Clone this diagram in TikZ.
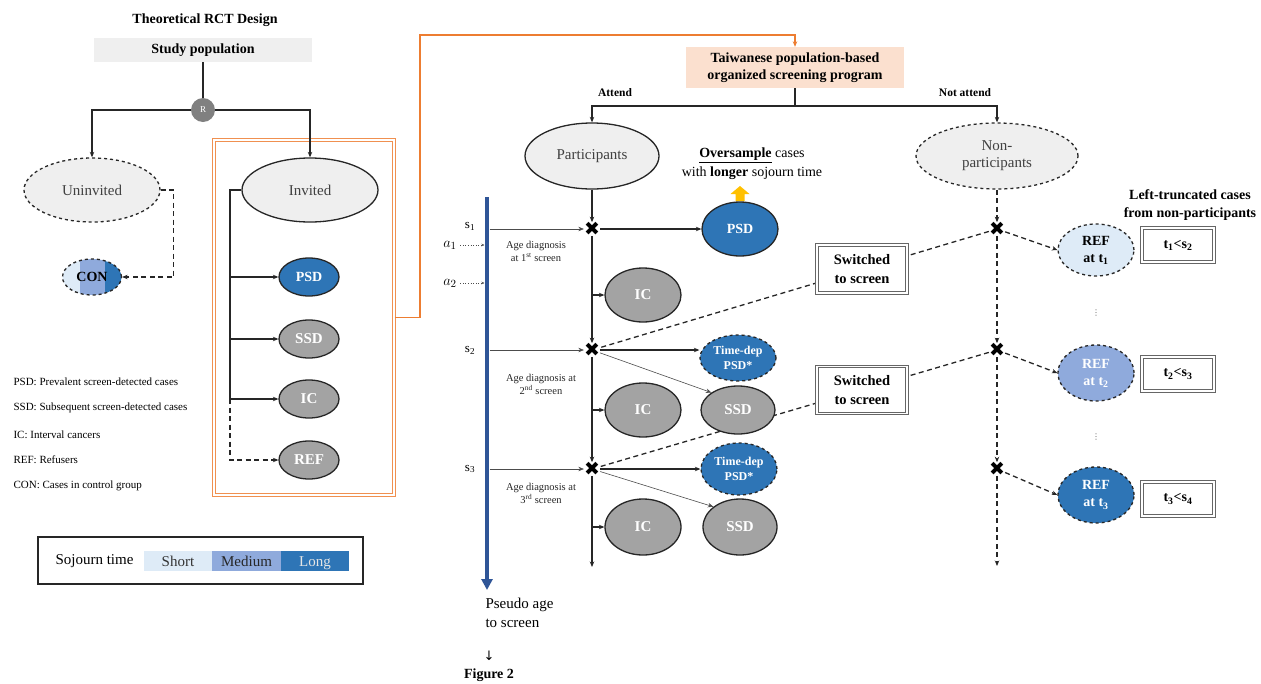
\documentclass[tikz,border=0pt]{standalone}
\usepackage{fontspec}
\setmainfont{Liberation Serif}
\newfontfamily\symfont{DejaVu Sans}
\usetikzlibrary{shapes.geometric,arrows.meta,backgrounds}
\definecolor{dblue}{HTML}{2E75B6}
\definecolor{mblue}{HTML}{8FAADC}
\definecolor{lblue}{HTML}{DEEBF7}
\definecolor{cgray}{HTML}{A3A3A3}
\definecolor{lgray}{HTML}{EFEFEF}
\definecolor{orng}{HTML}{ED7D31}
\definecolor{peach}{HTML}{FBE0CF}
\definecolor{axblue}{HTML}{2F5597}
\definecolor{gold}{HTML}{FFC000}
\newcommand\fsz[2]{\fontsize{#1pt}{#2pt}\selectfont}
\tikzset{
  tip/.style={-{Stealth[length=5.5pt,width=4.5pt]}},
  conn/.style={draw=black!85, line width=1.3pt},
  tconn/.style={draw=black!70, line width=0.6pt},
  dconn/.style={draw=black!85, line width=1.3pt, dash pattern=on 5pt off 3.5pt},
  ell/.style={ellipse, draw=black!85, line width=1.3pt, inner sep=0pt, align=center},
  grayell/.style={ell, fill=cgray, text=white, font=\fsz{15}{16}\bfseries},
  blueell/.style={ell, fill=dblue, text=white, font=\fsz{14}{16}\bfseries},
  crossm/.style={inner sep=0pt, font=\symfont\fsz{19}{19}},
  sbox/.style={draw=black!60, line width=1pt, double=white, double distance=1.4pt, fill=white, inner sep=0pt, align=center},
  lgd/.style={anchor=west, font=\fsz{11}{13}},
  lbl/.style={font=\fsz{10.5}{13}, align=center, text=black!85},
  cell/.style={minimum width=68.5pt, minimum height=20pt, inner sep=0pt, text height=10pt, text depth=0pt, font=\fsz{15}{17}},
}
\begin{document}
\begin{tikzpicture}[x=1pt,y=-1pt]
\useasboundingbox (0,0) rectangle (1261,683);

% ---------------- Left: theoretical RCT ----------------
\node[font=\fsz{14}{16}\bfseries] (title) at (205,20) {Theoretical RCT Design};
\node[fill=lgray, minimum width=218pt, minimum height=24pt, inner sep=0pt, font=\fsz{14}{16}\bfseries] (pop) at (203,50) {Study population};
\node[circle, fill=black!50, minimum size=24pt, inner sep=0pt, text=white, font=\fsz{9}{10}] (R) at (203,110) {R};
\node[ell, dashed, fill=lgray, minimum width=136pt, minimum height=64pt, font=\fsz{15}{17}, text=black!75] (unin) at (92,190) {Uninvited};
\node[ell, fill=lgray, minimum width=136pt, minimum height=64pt, font=\fsz{15}{17}, text=black!75] (inv) at (310,190) {Invited};

\begin{scope}
  \clip (92,277) ellipse (29.5 and 18);
  \fill[lblue] (60,255) rectangle (80,300);
  \fill[mblue] (80,255) rectangle (105,300);
  \fill[dblue] (105,255) rectangle (125,300);
\end{scope}
\node[ell, dashed, minimum width=59pt, minimum height=36pt, font=\fsz{14}{16}\bfseries] (con) at (92,277) {CON};

\node[draw=orng!85, line width=1.6pt, double=white, double distance=1.3pt, minimum width=180pt, minimum height=355pt, inner sep=0pt] (obox) at (304,317.5) {};

\node[blueell, minimum width=60pt, minimum height=38pt] (psdL) at (309,277) {PSD};
\node[grayell, minimum width=60pt, minimum height=38pt] (ssdL) at (309,339) {SSD};
\node[grayell, minimum width=60pt, minimum height=38pt] (icL) at (309,399) {IC};
\node[grayell, minimum width=60pt, minimum height=38pt] (refL) at (309,460) {REF};

\draw[conn] (pop) -- (R);
\draw[conn,tip] (R) -| (unin);
\draw[conn,tip] (R) -| (inv);
\draw[dconn,tip] (unin.east) -- ++(13,0) |- (con.east);
\coordinate (ib) at (230,190);
\draw[conn] (inv.west) -- (ib) -- (ib |- icL);
\draw[conn,tip] (ib |- psdL) -- (psdL.west);
\draw[conn,tip] (ib |- ssdL) -- (ssdL.west);
\draw[conn,tip] (ib |- icL) -- (icL.west);
\draw[dconn,tip] (ib |- icL) |- (refL.west);

\node[lgd] (l1) at (10,382) {PSD: Prevalent screen-detected cases};
\node[lgd] (l2) at (10,408) {SSD: Subsequent screen-detected cases};
\node[lgd] (l3) at (10,435) {IC: Interval cancers};
\node[lgd] (l4) at (10,460) {REF: Refusers};
\node[lgd] (l5) at (10,486) {CON: Cases in control group};

\node[draw=black!85, line width=1.4pt, minimum width=325pt, minimum height=47pt, inner sep=0pt] (soj) at (200.5,560.5) {};
\node[anchor=west, font=\fsz{15}{17}] (sojt) at (52,561) {Sojourn time};
\node[cell, fill=lblue, text=black!80] (short) at (178,561) {Short};
\node[cell, fill=mblue, text=black!85] (med) at (246.5,561) {Medium};
\node[cell, fill=dblue, text=white!90!black] (long) at (315,561) {Long};

% ---------------- Middle ----------------
\node[fill=peach, minimum width=218pt, minimum height=41pt, inner sep=0pt, align=center, font=\fsz{14}{17}\bfseries] (tw) at (795,67.5) {Taiwanese population-based\\organized screening program};
\coordinate (oc) at (420,35);
\draw[orng, line width=1.5pt, tip] (obox.east) -| (oc) -| (tw.north);

\node[ell, fill=lgray, minimum width=134pt, minimum height=66pt, font=\fsz{15}{17}, text=black!75] (part) at (592,156) {Participants};
\node[ell, dashed, fill=lgray, minimum width=162pt, minimum height=66pt, font=\fsz{15}{17}, text=black!75] (nonp) at (997,156) {Non-\\participants};
\coordinate (br) at (795,106);
\draw[conn] (tw.south) -- (br);
\draw[conn,tip] (br) -| (part);
\draw[conn,tip] (br) -| (nonp);
\node[font=\fsz{11.5}{13}\bfseries] (att) at (615,93) {Attend};
\node[font=\fsz{11.5}{13}\bfseries] (natt) at (965,93) {Not attend};

\node[align=center, font=\fsz{14}{19}] (over) at (752,164) {\underline{\textbf{Oversample}} cases\\with \textbf{longer} sojourn time};
\fill[gold] (735.5,201) -- (735.5,194) -- (730.5,194) -- (740,186) -- (749.5,194) -- (744.5,194) -- (744.5,201) -- cycle;

\node[blueell, minimum width=76pt, minimum height=54pt] (psd1) at (740,229) {PSD};

\node[crossm] (x1) at (592,229) {✖};
\node[crossm] (x2) at (592,350) {✖};
\node[crossm] (x3) at (592,469) {✖};
\node[crossm] (n1) at (997,229) {✖};
\node[crossm] (n2) at (997,350) {✖};
\node[crossm] (n3) at (997,469) {✖};

\node[grayell, minimum width=76pt, minimum height=54pt] (ic1) at (643,295) {IC};
\node[grayell, minimum width=76pt, minimum height=54pt] (ic2) at (643,410) {IC};
\node[grayell, minimum width=76pt, minimum height=56pt] (ic3) at (643,527) {IC};
\node[blueell, dashed, minimum width=76pt, minimum height=46pt, font=\fsz{12}{15}\bfseries] (td2) at (738,358) {Time-dep\\PSD*};
\node[grayell, minimum width=74pt, minimum height=48pt] (ssd2) at (738,410) {SSD};
\node[blueell, dashed, minimum width=76pt, minimum height=52pt, font=\fsz{12}{15}\bfseries] (td3) at (739,469) {Time-dep\\PSD*};
\node[grayell, minimum width=74pt, minimum height=56pt] (ssd3) at (740,527) {SSD};

% axis
\coordinate (axtop) at (487,197);
\coordinate (axbot) at (487,590);
\draw[axblue, line width=3.5pt, -{Triangle[length=11pt,width=11pt]}] (axtop) -- (axbot);
\node[font=\fsz{13}{14}] (s1) at (470,226) {s\textsubscript{1}};
\node[font=\fsz{13}{14}] (s2) at (470,350) {s\textsubscript{2}};
\node[font=\fsz{13}{14}] (s3) at (470,469) {s\textsubscript{3}};
\draw[tconn,tip] ([xshift=2.5pt]axtop |- x1) -- (x1);
\draw[tconn,tip] ([xshift=2.5pt]axtop |- x2) -- (x2);
\draw[tconn,tip] ([xshift=2.5pt]axtop |- x3) -- (x3);
\node[font=\fsz{15}{15}] (a1) at (450,245) {$a_1$};
\node[font=\fsz{15}{15}] (a2) at (450,283) {$a_2$};
\draw[tconn, dotted, -{Stealth[length=3pt,width=2.5pt]}] (a1.east) -- ([xshift=-2.5pt]axtop |- a1);
\draw[tconn, dotted, -{Stealth[length=3pt,width=2.5pt]}] (a2.east) -- ([xshift=-2.5pt]axtop |- a2);

\node[lbl] (ad1) at (536,251) {Age diagnosis\\at 1\textsuperscript{st} screen};
\node[lbl] (ad2) at (541,384) {Age diagnosis at\\2\textsuperscript{nd} screen};
\node[lbl] (ad3) at (541,493) {Age diagnosis at\\3\textsuperscript{rd} screen};

% participant flow
\draw[conn,tip] (part) -- (x1);
\draw[conn,tip] (x1) -- (x2);
\draw[conn,tip] (x2) -- (x3);
\coordinate (pend) at (592,567);
\draw[conn,tip] (x3) -- (pend);
\draw[conn,tip] (x1) -- (psd1);
\draw[conn,tip] (x1 |- ic1) -- (ic1.west);
\draw[conn,tip] (x2 |- ic2) -- (ic2.west);
\draw[conn,tip] (x3 |- ic3) -- (ic3.west);
\draw[conn,tip] (x2.east) -- (td2.west |- x2);
\draw[conn,tip] (x3.east) -- (td3.west |- x3);
\draw[tconn,tip] (x2) -- (ssd2.north west);
\draw[tconn,tip] (x3) -- (ssd3.north west);

% ---------------- Right ----------------
\node[sbox, minimum width=90pt, minimum height=48pt, font=\fsz{14.5}{19}\bfseries] (sw1) at (862,269) {Switched\\to screen};
\node[sbox, minimum width=90pt, minimum height=47pt, font=\fsz{14.5}{19}\bfseries] (sw2) at (862,390) {Switched\\to screen};

\begin{pgfonlayer}{background}
\draw[dconn] (n1) -- (x2);
\draw[dconn] (n2) -- (x3);
\end{pgfonlayer}

\draw[dconn,tip] (nonp) -- (n1);
\draw[dconn,tip] (n1) -- (n2);
\draw[dconn,tip] (n2) -- (n3);
\coordinate (nend) at (997,566);
\draw[dconn,tip] (n3) -- (nend);

\node[align=center, font=\fsz{14}{18}\bfseries] (lt) at (1190,205) {Left-truncated cases\\from non-participants};

\node[ell, dashed, fill=lblue, minimum width=76pt, minimum height=52pt, font=\fsz{14}{17}\bfseries] (r1) at (1096,250) {REF\\at t\textsubscript{1}};
\node[ell, dashed, fill=mblue, text=white, minimum width=76pt, minimum height=56pt, font=\fsz{14}{17}\bfseries] (r2) at (1096,373) {REF\\at t\textsubscript{2}};
\node[ell, dashed, fill=dblue, text=white, minimum width=76pt, minimum height=56pt, font=\fsz{14}{17}\bfseries] (r3) at (1096,495) {REF\\at t\textsubscript{3}};
\draw[dconn,tip] (n1) -- (r1.west);
\draw[dconn,tip] (n2) -- (r2.west);
\draw[dconn,tip] (n3) -- (r3.west);

\node[sbox, minimum width=72pt, minimum height=34pt, font=\fsz{14}{16}\bfseries] (tb1) at (1178,245) {t\textsubscript{1}<s\textsubscript{2}};
\node[sbox, minimum width=72pt, minimum height=34pt, font=\fsz{14}{16}\bfseries] (tb2) at (1178,374) {t\textsubscript{2}<s\textsubscript{3}};
\node[sbox, minimum width=72pt, minimum height=34pt, font=\fsz{14}{16}\bfseries] (tb3) at (1178,499) {t\textsubscript{3}<s\textsubscript{4}};

\node[font=\symfont\fsz{8}{8}, text=black!60] (d1) at (1096,313) {⋮};
\node[font=\symfont\fsz{8}{8}, text=black!60] (d2) at (1096,437) {⋮};

% bottom texts
\node[anchor=west, align=left, font=\fsz{15}{19}] (pseudo) at (482,613) {Pseudo age\\to screen};
\node[font=\symfont\fsz{13}{14}] (darr) at (489,656) {↓};
\node[font=\fsz{14}{16}\bfseries] (fig) at (489,675) {Figure 2};
\end{tikzpicture}
\end{document}
